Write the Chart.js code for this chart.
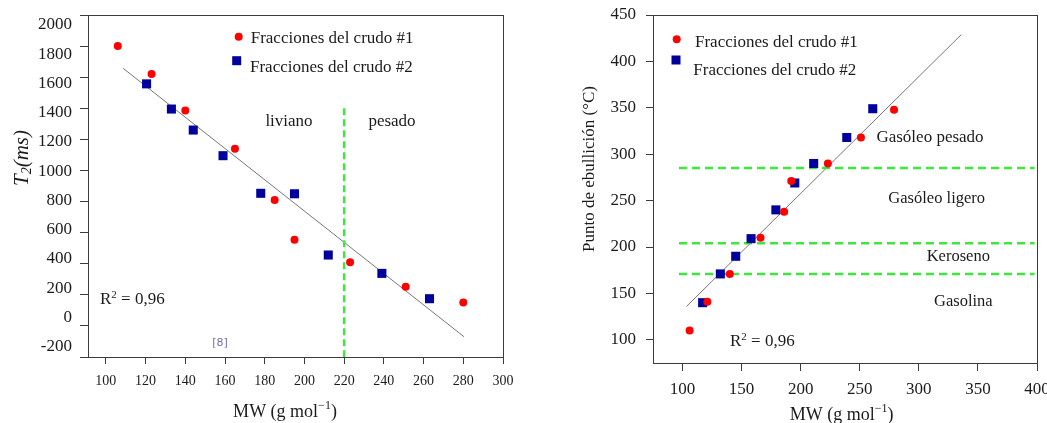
<!DOCTYPE html>
<html>
<head>
<meta charset="utf-8">
<script src="https://cdn.jsdelivr.net/npm/chart.js@4.4.0/dist/chart.umd.min.js"></script>
<style>
  html, body { margin: 0; padding: 0; background: #fff; }
  #wrap { position: relative; width: 1047px; height: 423px; overflow: hidden; background: #fff; }
  canvas { position: absolute; top: 0; }
  #c1 { left: 0; }
  #c2 { left: 530px; }
</style>
</head>
<body>
<div id="wrap">
  <canvas id="c1" width="520" height="423"></canvas>
  <canvas id="c2" width="517" height="423"></canvas>
</div>
<script>
// ---- T2 relaxation time vs. molecular weight ----
const t2MW1  = [106, 123, 140, 165, 185, 195, 223, 251, 280];
const t2Val1 = [1800, 1620, 1385, 1140, 810, 555, 410, 252, 150];
const t2MW2  = [120.5, 133, 144, 159, 178, 195, 212, 239, 263];
const t2Val2 = [1557, 1395, 1260, 1095, 853, 850, 456, 338, 175];
const t2FitMW  = [108.7, 280.4];
const t2FitVal = [1657, -70];
const t2CutMW  = [220, 220];          // light / heavy boundary
const t2CutVal = [1400, -200];
const t2MWTicks = [100, 120, 140, 160, 180, 200, 220, 240, 260, 280, 300];
const t2Ticks   = [-200, 0, 200, 400, 600, 800, 1000, 1200, 1400, 1600, 1800, 2000];

// ---- boiling point vs. molecular weight ----
const bpMW1  = [106, 121, 140, 166, 186, 192, 223, 251, 279];
const bpVal1 = [110, 141, 171, 210, 238, 271, 290, 318, 348];
const bpMW2  = [117, 132, 145, 158, 179, 195, 211, 239, 261];
const bpVal2 = [140, 171, 190, 209, 240, 269, 290, 318, 349];
const bpFitMW  = [103.4, 336];
const bpFitVal = [136, 429];
const bpCuts   = [285, 204, 171];     // gasoline / kerosene / light gas oil / heavy gas oil
const bpCutMW  = [97, 398];
const bpMWTicks = [100, 150, 200, 250, 300, 350, 400];
const bpTicks   = [100, 150, 200, 250, 300, 350, 400, 450];

const seriesNames = ['Fracciones del crudo #1', 'Fracciones del crudo #2'];

const SERIF = "'Liberation Serif', 'Times New Roman', serif";
const INK = '#1b1b1b';
const AXIS = '#3c3c3c';
const RED = '#ff0000';
const BLUE = '#00009c';
const GREEN = '#3ce83c';
const FIT = '#777777';

const zip = (xs, ys) => xs.map((x, i) => ({ x, y: ys[i] }));
const fixTicks = vals => scale => { scale.ticks = vals.map(v => ({ value: v })); };
const plain = v => String(v);
// fixed axis thickness, no extra room reserved for overhanging labels
const fitTo = (prop, size) => s => {
  s[prop] = size;
  s.paddingLeft = s.paddingRight = s.paddingTop = s.paddingBottom = 0;
};

// Frame, legend keys and free text (supports simple sub/superscript runs)
const annotate = {
  id: 'annotate',
  afterDraw(chart, args, opts) {
    const ctx = chart.ctx, a = chart.chartArea;
    ctx.save();
    ctx.strokeStyle = AXIS;
    ctx.lineWidth = 1;
    ctx.strokeRect(Math.round(a.left) + 0.5, Math.round(a.top) + 0.5,
                   Math.round(a.right - a.left), Math.round(a.bottom - a.top));

    (opts.keys || []).forEach(k => {
      ctx.fillStyle = k.color;
      if (k.shape === 'circle') {
        ctx.beginPath();
        ctx.arc(k.x, k.y, k.size, 0, Math.PI * 2);
        ctx.fill();
      } else {
        ctx.fillRect(k.x - k.size / 2, k.y - k.size / 2, k.size, k.size);
      }
    });

    (opts.texts || []).forEach(t => {
      const runs = t.runs || [{ text: t.text, font: t.font, dy: 0 }];
      ctx.save();
      ctx.translate(t.x, t.y);
      if (t.rotate) ctx.rotate(t.rotate);
      ctx.fillStyle = t.color || INK;
      ctx.textBaseline = 'middle';
      ctx.textAlign = 'left';
      let total = 0;
      runs.forEach(r => { ctx.font = r.font; r.w = ctx.measureText(r.text).width; total += r.w; });
      let x = t.align === 'center' ? -total / 2 : 0;
      runs.forEach(r => { ctx.font = r.font; ctx.fillText(r.text, x, r.dy || 0); x += r.w; });
      ctx.restore();
    });
    ctx.restore();
  }
};

const f = (size, style) => (style ? style + ' ' : '') + size + 'px ' + SERIF;

function pointSets(x1, y1, x2, y2) {
  return [
    { label: seriesNames[0], data: zip(x1, y1), pointStyle: 'circle', pointRadius: 4,
      backgroundColor: RED, borderWidth: 0, order: 1 },
    { label: seriesNames[1], data: zip(x2, y2), pointStyle: 'rect', pointRadius: 6.4,
      backgroundColor: BLUE, borderWidth: 0, order: 1 }
  ];
}

const mwTitle = size => [
  { text: 'MW (g mol', font: f(size) },
  { text: '\u22121', font: f(Math.round(size * 0.68)), dy: -6 },
  { text: ')', font: f(size) }
];
const r2Runs = [
  { text: 'R', font: f(17) },
  { text: '2', font: f(11), dy: -5 },
  { text: ' = 0,96', font: f(17) }
];

// Left panel: T2 (ms)
new Chart(document.getElementById('c1'), {
  type: 'scatter',
  data: {
    datasets: [
      ...pointSets(t2MW1, t2Val1, t2MW2, t2Val2),
      { type: 'line', data: zip(t2FitMW, t2FitVal), borderColor: FIT, borderWidth: 1,
        pointRadius: 0, order: 3 },
      { type: 'line', data: zip(t2CutMW, t2CutVal), borderColor: GREEN, borderWidth: 2.5,
        borderDash: [7, 4], pointRadius: 0, order: 2 }
    ]
  },
  options: {
    responsive: false,
    animation: false,
    events: [],
    layout: { padding: { top: 15, right: 17, left: 0, bottom: 0 } },
    plugins: {
      legend: { display: false },
      tooltip: { enabled: false },
      annotate: {
        keys: [
          { shape: 'circle', x: 238.7, y: 36.7, size: 4, color: RED },
          { shape: 'rect', x: 236.7, y: 60.7, size: 9, color: BLUE }
        ],
        texts: [
          { text: seriesNames[0], font: f(17), x: 250.7, y: 39 },
          { text: seriesNames[1], font: f(17), x: 250, y: 68 },
          { text: 'liviano', font: f(17), x: 289, y: 122, align: 'center' },
          { text: 'pesado', font: f(17), x: 392, y: 122, align: 'center' },
          { runs: r2Runs, x: 100, y: 300 },
          { text: '[8]', font: "11px 'DejaVu Sans', sans-serif", x: 220, y: 343, align: 'center', color: '#7070a8' },
          { runs: [
              { text: 'T', font: f(21, 'italic') },
              { text: '2', font: f(14, 'italic'), dy: 5 },
              { text: '(ms)', font: f(21, 'italic') }
            ], x: 22, y: 158, align: 'center', rotate: -Math.PI / 2 },
          { runs: mwTitle(18), x: 285, y: 412, align: 'center' }
        ]
      }
    },
    scales: {
      x: {
        type: 'linear', position: 'bottom', min: 91, max: 300,
        afterBuildTicks: fixTicks(t2MWTicks),
        afterFit: fitTo('height', 66),
        grid: { drawOnChartArea: false, drawTicks: true, tickLength: 7, color: AXIS, lineWidth: 1 },
        border: { display: true, color: AXIS, width: 1 },
        ticks: { font: { family: SERIF, size: 14 }, color: INK, padding: 9, maxRotation: 0,
                 autoSkip: false, callback: plain }
      },
      y: {
        type: 'linear', position: 'left', weight: 0, min: -200, max: 2000,
        afterBuildTicks: fixTicks(t2Ticks),
        afterFit: fitTo('width', 8),
        grid: { drawOnChartArea: false, drawTicks: true, tickLength: 8, color: AXIS, lineWidth: 1 },
        border: { display: true, color: AXIS, width: 1 },
        ticks: { display: false }
      },
      // label column for the T2 axis, set on its own slightly tighter scale
      yLab: {
        axis: 'y', type: 'linear', position: 'left', weight: 1, min: -270, max: 2068,
        afterBuildTicks: fixTicks(t2Ticks),
        afterFit: fitTo('width', 80),
        grid: { display: false, drawTicks: false, tickLength: 0 },
        border: { display: false },
        ticks: { font: { family: SERIF, size: 17 }, color: INK, padding: 8, autoSkip: false,
                 callback: plain }
      }
    }
  },
  plugins: [annotate]
});

// Right panel: boiling point (°C)
const bpCutSets = bpCuts.map(v => ({
  type: 'line', data: zip(bpCutMW, [v, v]), borderColor: GREEN, borderWidth: 2.5,
  borderDash: [8, 5], pointRadius: 0, order: 2
}));

new Chart(document.getElementById('c2'), {
  type: 'scatter',
  data: {
    datasets: [
      ...pointSets(bpMW1, bpVal1, bpMW2, bpVal2),
      { type: 'line', data: zip(bpFitMW, bpFitVal), borderColor: FIT, borderWidth: 1,
        pointRadius: 0, order: 3 },
      ...bpCutSets
    ]
  },
  options: {
    responsive: false,
    animation: false,
    events: [],
    layout: { padding: { top: 15, right: 10, left: 0, bottom: 0 } },
    plugins: {
      legend: { display: false },
      tooltip: { enabled: false },
      annotate: {
        keys: [
          { shape: 'circle', x: 146.7, y: 39.3, size: 4, color: RED },
          { shape: 'rect', x: 146, y: 60, size: 9, color: BLUE }
        ],
        texts: [
          { text: seriesNames[0], font: f(17), x: 165, y: 42.7 },
          { text: seriesNames[1], font: f(17), x: 163.3, y: 70.7 },
          { text: 'Gasóleo pesado', font: f(17), x: 400, y: 137.3, align: 'center' },
          { text: 'Gasóleo ligero', font: f(16.5), x: 406.7, y: 199, align: 'center' },
          { text: 'Keroseno', font: f(16.5), x: 428.3, y: 256.7, align: 'center' },
          { text: 'Gasolina', font: f(16.5), x: 433.3, y: 301.7, align: 'center' },
          { runs: r2Runs, x: 200, y: 341.7 },
          { text: 'Punto de ebullición (°C)', font: f(17), x: 60, y: 169, align: 'center', rotate: -Math.PI / 2 },
          { runs: mwTitle(18), x: 311.7, y: 415, align: 'center' }
        ]
      }
    },
    scales: {
      x: {
        type: 'linear', position: 'bottom', min: 75, max: 400,
        afterBuildTicks: fixTicks(bpMWTicks),
        afterFit: fitTo('height', 60),
        grid: { drawOnChartArea: false, drawTicks: true, tickLength: 8, color: AXIS, lineWidth: 1 },
        border: { display: true, color: AXIS, width: 1 },
        ticks: { font: { family: SERIF, size: 17 }, color: INK, padding: 8, maxRotation: 0,
                 autoSkip: false, callback: plain }
      },
      y: {
        type: 'linear', position: 'left', min: 75, max: 450,
        afterBuildTicks: fixTicks(bpTicks),
        afterFit: fitTo('width', 123),
        grid: { drawOnChartArea: false, drawTicks: true, tickLength: 7, color: AXIS, lineWidth: 1 },
        border: { display: true, color: AXIS, width: 1 },
        ticks: { font: { family: SERIF, size: 17 }, color: INK, padding: 10, autoSkip: false,
                 callback: plain }
      }
    }
  },
  plugins: [annotate]
});
</script>
</body>
</html>
